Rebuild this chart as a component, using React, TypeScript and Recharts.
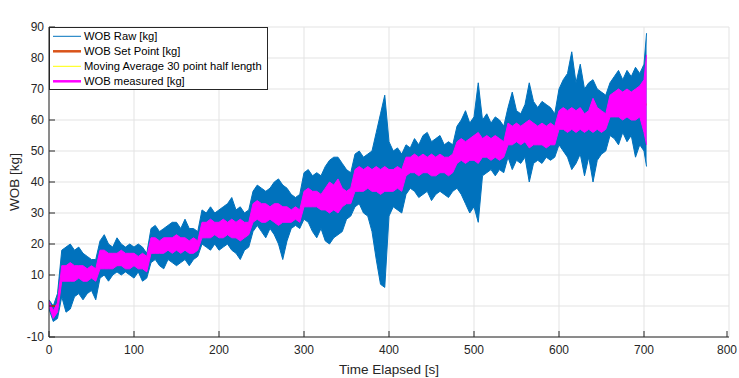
import { Area, CartesianGrid, ComposedChart, Label, Legend, XAxis, YAxis } from "recharts";

// envelope of the dense signals, read every 5 s from the plot (last sample at 703 s)
const SAMPLE_STEP = 5;
const END_TIME = 703;

const RAW_HIGH = [
  2, 0, 4, 18, 19, 20, 18, 19, 17, 16, 15, 15,
  21, 23, 20, 19, 22, 20, 19, 20, 19, 20, 19, 17,
  25, 26, 24, 25, 26, 27, 27, 25, 28, 25, 25, 24,
  31, 30, 32, 30, 31, 32, 33, 35, 31, 32, 30, 31,
  37, 39, 38, 37, 38, 40, 41, 39, 38, 36, 35, 36,
  43, 44, 42, 43, 42, 45, 47, 48, 48, 46, 44, 43,
  49, 50, 48, 49, 50, 56, 62, 68, 53, 50, 51, 49,
  52, 51, 54, 52, 55, 56, 53, 54, 55, 52, 53, 52,
  58, 60, 63, 59, 61, 72, 60, 62, 59, 61, 60, 58,
  64, 69, 63, 62, 65, 72, 66, 64, 66, 65, 64, 62,
  70, 73, 75, 82, 72, 78, 70, 72, 73, 70, 69, 68,
  72, 74, 76, 73, 76, 74, 77, 75, 78,
  88,
];

const RAW_LOW = [
  -1, -5, -4, 3, -2, -1, 3, 4, 2, 4, 5, 2,
  9, 10, 8, 10, 11, 10, 11, 10, 9, 11, 8, 9,
  14, 15, 13, 12, 15, 14, 13, 14, 15, 13, 15, 16,
  20, 19, 18, 20, 18, 19, 20, 18, 17, 15, 18, 19,
  24, 26, 24, 22, 25, 23, 20, 15, 21, 25, 26, 25,
  28, 27, 24, 22, 25, 21, 20, 22, 23, 24, 28, 29,
  32, 33, 30, 29, 24, 15, 7, 6, 29, 32, 31, 30,
  36, 38, 37, 35, 36, 37, 34, 36, 37, 36, 35, 37,
  38, 36, 33, 30, 32, 27, 42, 43, 44, 42, 44, 43,
  48, 44, 47, 46, 48, 40, 46, 47, 46, 48, 47, 48,
  52, 50, 48, 44, 46, 49, 42, 48, 40, 47, 49, 50,
  55, 54, 52, 56, 53, 55, 48, 52, 50,
  45,
];

const MEAS_HIGH = [
  1.5, -1.5, 1, 13, 13, 14, 13, 13, 13, 12, 13, 12,
  18, 18, 17, 17, 17, 18, 17, 17, 17, 16, 17, 16,
  22, 22, 21, 22, 22, 22, 23, 22, 22, 21, 22, 21,
  27, 27, 28, 27, 27, 28, 27, 28, 27, 28, 27, 27,
  33, 34, 33, 33, 32, 33, 33, 32, 32, 31, 32, 31,
  37, 38, 37, 37, 36, 38, 40, 39, 41, 38, 37, 38,
  44, 45, 44, 45, 44, 45, 44, 45, 44, 44, 45, 44,
  48, 48, 49, 48, 49, 48, 49, 48, 49, 48, 48, 49,
  53, 54, 53, 54, 55, 56, 54, 55, 54, 55, 54, 53,
  59, 58, 59, 58, 59, 60, 59, 58, 59, 58, 59, 58,
  63, 64, 63, 64, 63, 64, 62, 63, 67, 64, 63, 62,
  68, 69, 70, 69, 70, 69, 70, 71, 73,
  81,
];

const MEAS_LOW = [
  0, -4, -2, 8, 8, 8, 8, 9, 8, 8, 9, 8,
  12, 12, 12, 12, 13, 13, 12, 12, 13, 12, 12, 11,
  17, 17, 17, 17, 18, 17, 18, 17, 18, 17, 17, 18,
  22, 22, 22, 23, 22, 22, 23, 22, 22, 21, 22, 23,
  27, 28, 27, 27, 28, 27, 26, 27, 27, 27, 28, 27,
  32, 32, 32, 32, 31, 31, 30, 31, 30, 32, 33, 33,
  37, 37, 37, 38, 37, 37, 36, 37, 37, 37, 38, 37,
  42, 43, 43, 42, 43, 43, 42, 42, 43, 43, 42, 43,
  46, 47, 46, 47, 47, 46, 48, 48, 47, 48, 47, 48,
  52, 52, 53, 52, 53, 51, 52, 52, 52, 51, 52, 52,
  57, 57, 56, 57, 56, 57, 56, 57, 56, 57, 56, 57,
  61, 61, 61, 60, 61, 60, 60, 61, 56,
  52,
];

// set point steps: level from each start time onwards
const SETPOINT_TIME = [0, 15, 60, 120, 180, 240, 300, 360, 420, 480, 540, 600, 660];
const SETPOINT = [0, 10, 15, 20, 25, 30, 35, 40, 45, 50, 55, 60, 65];

// moving average, every 10 s (hidden under the other traces in the original)
const MOVAVG_STEP = 10;
const MOVAVG = [
  0.5, 0, 10.5, 10.5, 10.5, 10.5,
  14.5, 14.5, 15, 14.5, 15, 14.5,
  19.5, 19, 20, 20.5, 20, 19.5,
  24.5, 25, 24.5, 25, 24.5, 24.5,
  30, 30, 30, 29.5, 29.5, 30,
  34.5, 34.5, 33.5, 35, 35.5, 35,
  40.5, 40.5, 40.5, 40, 40.5, 41.5,
  45, 46, 46, 45.5, 46, 45,
  49.5, 49.5, 51, 51, 50.5, 50.5,
  55.5, 56, 56, 55.5, 55.5, 55.5,
  60, 59.5, 59.5, 59, 61.5, 59.5,
  64.5, 65.5, 65.5, 65, 64.5,
];

const X_TICKS = [0, 100, 200, 300, 400, 500, 600, 700, 800];
const Y_TICKS = [-10, 0, 10, 20, 30, 40, 50, 60, 70, 80, 90];

const LEGEND_ITEMS = [
  { name: "WOB Raw [kg]", color: "#0072BD", width: 1 },
  { name: "WOB Set Point [kg]", color: "#D95319", width: 2.5 },
  { name: "Moving Average 30 point half length", color: "#FFFF00", width: 1 },
  { name: "WOB measured [kg]", color: "#FF00FF", width: 2.5 },
];

const FONT = "'Liberation Sans', Arial, Helvetica, sans-serif";
const AXIS_COLOR = "#262626";
const TICK_LEN = 6;

function setPointAt(t: number) {
  let level = SETPOINT[0];
  SETPOINT_TIME.forEach((start, i) => {
    if (t >= start) level = SETPOINT[i];
  });
  return level;
}

const data = RAW_HIGH.map((hi, i) => {
  const t = Math.min(i * SAMPLE_STEP, END_TIME);
  const maIndex = t / MOVAVG_STEP;
  return {
    t,
    raw: [RAW_LOW[i], hi],
    meas: [MEAS_LOW[i], MEAS_HIGH[i]],
    sp: setPointAt(t),
    ma: Number.isInteger(maIndex) && maIndex < MOVAVG.length ? MOVAVG[maIndex] : null,
  };
});

function BottomTick({ x, y, payload }: any) {
  return (
    <g>
      <line x1={x} y1={y} x2={x} y2={y - TICK_LEN} stroke={AXIS_COLOR} />
      <text x={x} y={y + 17} textAnchor="middle" fill={AXIS_COLOR} fontSize={12} fontFamily={FONT}>
        {payload.value}
      </text>
    </g>
  );
}

function TopTick({ x, y }: any) {
  return <line x1={x} y1={y} x2={x} y2={y + TICK_LEN} stroke={AXIS_COLOR} />;
}

function LeftTick({ x, y, payload }: any) {
  return (
    <g>
      <line x1={x} y1={y} x2={x + TICK_LEN} y2={y} stroke={AXIS_COLOR} />
      <text x={x - 5} y={y + 4.3} textAnchor="end" fill={AXIS_COLOR} fontSize={12} fontFamily={FONT}>
        {payload.value}
      </text>
    </g>
  );
}

function RightTick({ x, y }: any) {
  return <line x1={x} y1={y} x2={x - TICK_LEN} y2={y} stroke={AXIS_COLOR} />;
}

function LegendBox() {
  return (
    <svg width={220} height={64} style={{ display: "block" }}>
      <rect x={0.5} y={0.5} width={218} height={62} fill="#fff" stroke={AXIS_COLOR} />
      {LEGEND_ITEMS.map((item, i) => {
        const cy = 9.3 + i * 15;
        return (
          <g key={item.name}>
            <line x1={4} y1={cy} x2={32} y2={cy} stroke={item.color} strokeWidth={item.width} />
            <text x={35} y={cy + 4} fontSize={11.2} fontFamily={FONT} fill="#000">
              {item.name}
            </text>
          </g>
        );
      })}
    </svg>
  );
}

export default function App() {
  return (
    <div style={{ position: "absolute", left: 0, top: 0, width: 739, height: 378, background: "#fff" }}>
      <ComposedChart
        width={739}
        height={378}
        data={data}
        margin={{ top: 27, right: 10, bottom: 0, left: 0 }}
      >
        <CartesianGrid stroke="#e3e3e3" strokeWidth={1} />
        <XAxis
          dataKey="t"
          type="number"
          domain={[0, 800]}
          ticks={X_TICKS}
          height={41}
          tickSize={0}
          tickMargin={0}
          tickLine={false}
          tick={BottomTick}
          axisLine={{ stroke: AXIS_COLOR }}
          allowDataOverflow
        >
          <Label
            value="Time Elapsed [s]"
            position="insideBottom"
            offset={4}
            style={{ fontSize: 13.5, fontFamily: FONT, fill: AXIS_COLOR }}
          />
        </XAxis>
        <XAxis
          xAxisId="top"
          orientation="top"
          type="number"
          domain={[0, 800]}
          ticks={X_TICKS}
          height={0}
          tickSize={0}
          tickMargin={0}
          tickLine={false}
          tick={TopTick}
          axisLine={{ stroke: AXIS_COLOR }}
        >
          <Label
            value="WOB"
            position="top"
            offset={5}
            style={{ fontSize: 13, fontWeight: "bold", fontFamily: FONT, fill: "#000" }}
          />
        </XAxis>
        <YAxis
          type="number"
          domain={[-10, 90]}
          ticks={Y_TICKS}
          width={49}
          tickSize={0}
          tickMargin={0}
          tickLine={false}
          tick={LeftTick}
          axisLine={{ stroke: AXIS_COLOR }}
          allowDataOverflow
        >
          <Label
            value="WOB [kg]"
            angle={-90}
            position="insideLeft"
            offset={14}
            style={{ fontSize: 13.5, fontFamily: FONT, fill: AXIS_COLOR, textAnchor: "middle" }}
          />
        </YAxis>
        <YAxis
          yAxisId="right"
          orientation="right"
          type="number"
          domain={[-10, 90]}
          ticks={Y_TICKS}
          width={0}
          tickSize={0}
          tickMargin={0}
          tickLine={false}
          tick={RightTick}
          axisLine={{ stroke: AXIS_COLOR }}
        />
        <Area
          dataKey="ma"
          type="linear"
          stroke="#FFFF00"
          strokeWidth={1}
          fill="none"
          connectNulls
          dot={false}
          activeDot={false}
          isAnimationActive={false}
        />
        <Area
          dataKey="raw"
          type="linear"
          stroke="#0072BD"
          strokeWidth={1}
          fill="#0072BD"
          fillOpacity={1}
          dot={false}
          activeDot={false}
          isAnimationActive={false}
        />
        <Area
          dataKey="sp"
          type="linear"
          stroke="#D95319"
          strokeWidth={2}
          fill="none"
          dot={false}
          activeDot={false}
          isAnimationActive={false}
        />
        <Area
          dataKey="meas"
          type="linear"
          stroke="#FF00FF"
          strokeWidth={1}
          fill="#FF00FF"
          fillOpacity={1}
          dot={false}
          activeDot={false}
          isAnimationActive={false}
        />
        <Legend
          layout="horizontal"
          verticalAlign="middle"
          align="center"
          content={LegendBox}
          wrapperStyle={{ left: 49, top: 27, width: 220, height: 64 }}
        />
      </ComposedChart>
    </div>
  );
}
